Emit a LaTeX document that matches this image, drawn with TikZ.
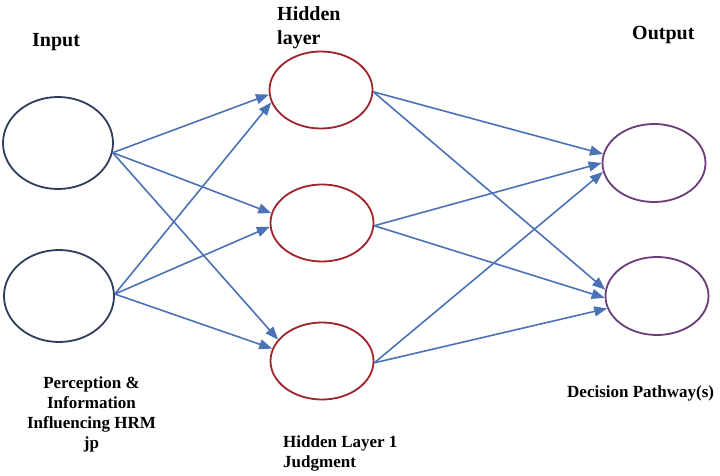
\documentclass[tikz,border=0pt]{standalone}
\usepackage{fontspec}
\setmainfont{Liberation Serif}
\usetikzlibrary{shapes.geometric,arrows.meta}
\definecolor{inblue}{HTML}{2E3D5C}
\definecolor{hidred}{HTML}{A0232B}
\definecolor{outpur}{HTML}{6B3B7B}
\definecolor{arrblue}{HTML}{4A72B4}
\tikzset{
  neuron/.style={ellipse, draw, line width=1.8pt, inner sep=0pt},
  innode/.style={neuron, draw=inblue, minimum width=110pt, minimum height=92pt},
  hidnode/.style={neuron, draw=hidred, minimum width=103pt, minimum height=77pt},
  outnode/.style={neuron, draw=outpur, minimum width=103pt, minimum height=78pt},
  conn/.style={draw=arrblue, line width=1.6pt, -{Triangle[length=13pt,width=10pt]}, arrblue},
  bigtitle/.style={font=\fontsize{20}{24}\selectfont\bfseries, inner sep=0pt, anchor=base west, align=left},
  caption/.style={font=\fontsize{17}{20}\selectfont\bfseries, inner sep=0pt, anchor=base west},
}
\begin{document}
\begin{tikzpicture}[x=1pt,y=-1pt]
\useasboundingbox (0,0) rectangle (720,476);
% nodes
\node[innode] (i1) at (58,143) {};
\node[innode] (i2) at (59,296) {};
\node[hidnode] (h1) at (321,90) {};
\node[hidnode] (h2) at (322,223) {};
\node[hidnode] (h3) at (322,361) {};
\node[outnode] (o1) at (654,163) {};
\node[outnode] (o2) at (657,296) {};
% labels (base anchor = last line's baseline)
\node[bigtitle] (tin) at (32,47) {Input};
\node[bigtitle] (thid) at (277,45) {Hidden\\layer};
\node[bigtitle] (tout) at (632,40) {Output};
\node[caption, align=center, anchor=base] (cin) at (91.5,448) {Perception \&\\Information\\Influencing HRM\\jp};
\node[caption, align=left] (chid) at (283,467) {Hidden Layer 1\\Judgment};
\node[caption] (cout) at (567,397) {Decision Pathway(s)};
% connectors input -> hidden
\draw[conn] (i1.-10) -- (h1.185);
\draw[conn] (i2.2) -- (h1.194);
\draw[conn] (i1.-10) -- (h2.169);
\draw[conn] (i2.2) -- (h2.184);
\draw[conn] (i1.-10) -- (h3.154);
\draw[conn] (i2.2) -- (h3.166);
% hidden -> output
\draw[conn] (h1.-2) -- (o1.170);
\draw[conn] (h2.-3) -- (o1.180);
\draw[conn] (h3.-2) -- (o1.190);
\draw[conn] (h1.-2) -- (o2.173);
\draw[conn] (h2.-3) -- (o2.182);
\draw[conn] (h3.-2) -- (o2.194);
\end{tikzpicture}
\end{document}
